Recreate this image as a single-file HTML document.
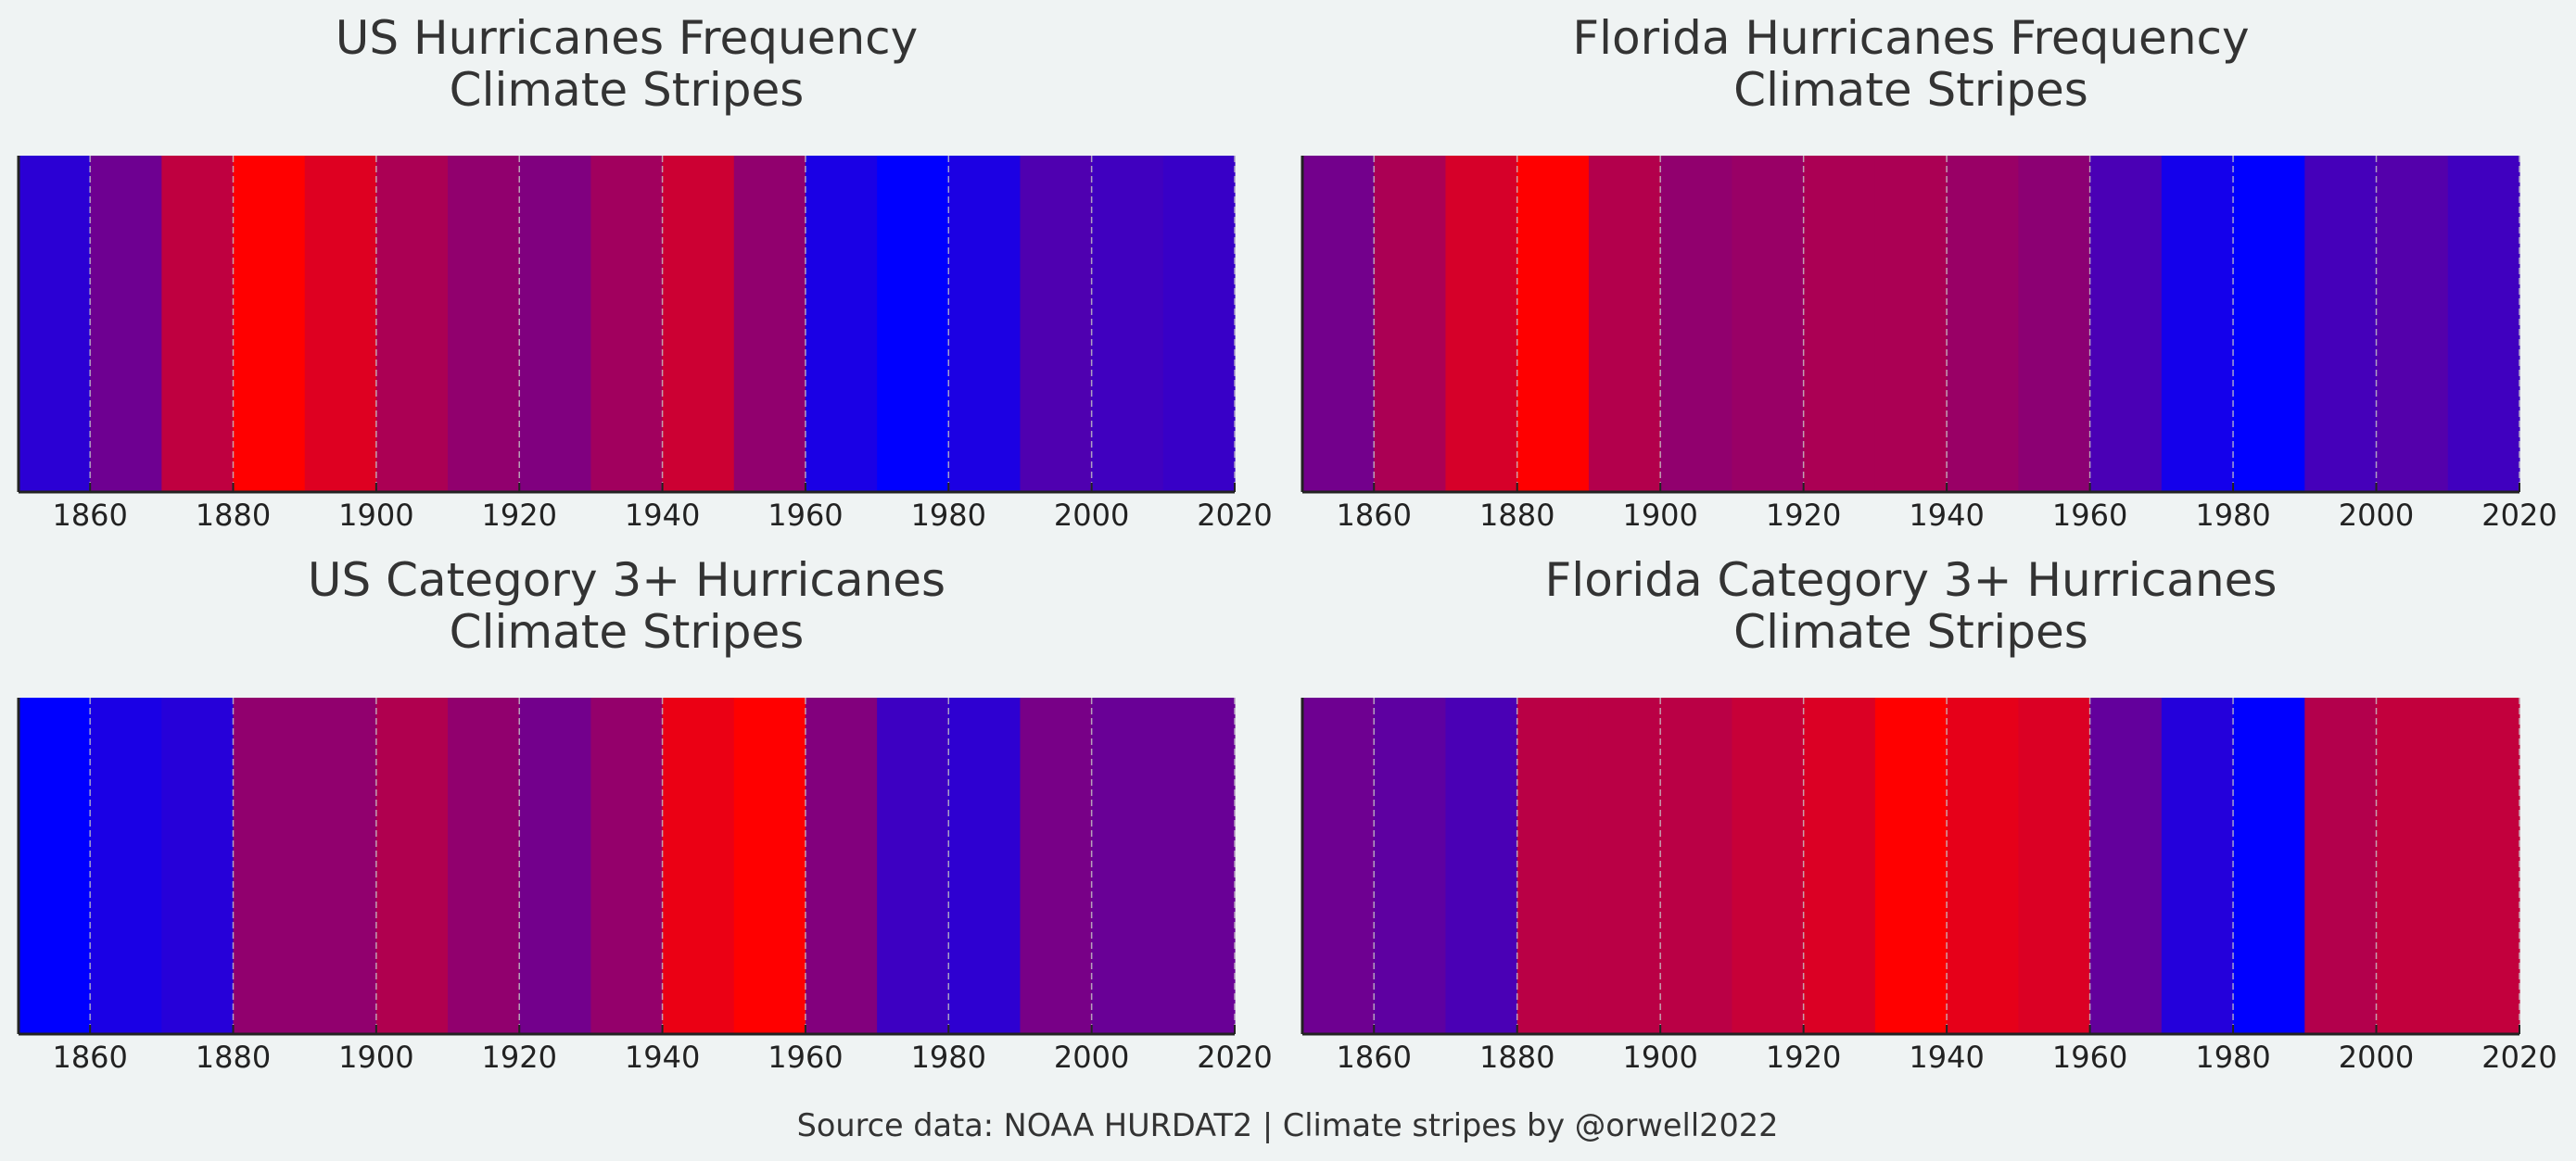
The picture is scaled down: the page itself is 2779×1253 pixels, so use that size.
<!DOCTYPE html>
<html><head><meta charset="utf-8">
<style>
html,body{margin:0;padding:0;background:#eff3f3;}
svg{display:block;font-family:"DejaVu Sans","Liberation Sans",sans-serif;}
</style></head>
<body>
<svg id="fig" width="2779" height="1253" viewBox="0 0 2779 1253" xmlns="http://www.w3.org/2000/svg">
<rect width="2779" height="1253" fill="#eff3f3"/>
<text x="1389" y="1226" text-anchor="middle" font-size="33.5" fill="#333">Source data: NOAA HURDAT2 | Climate stripes by @orwell2022</text>
</svg>
<script>
const decades = [1850,1860,1870,1880,1890,1900,1910,1920,1930,1940,1950,1960,1970,1980,1990,2000,2010];
const tickYears = [1860,1880,1900,1920,1940,1960,1980,2000,2020];
const usFreq = [0.17,0.43,0.75,1,0.87,0.67,0.57,0.5,0.63,0.8,0.57,0.1,0,0.11,0.31,0.25,0.22];
const flFreq = [0.45,0.67,0.84,1,0.7,0.57,0.6,0.67,0.67,0.6,0.55,0.29,0.08,0,0.27,0.33,0.25];
const usCat3 = [0,0.1,0.15,0.57,0.57,0.69,0.57,0.45,0.58,0.92,1,0.51,0.24,0.18,0.47,0.41,0.41];
const flCat3 = [0.43,0.37,0.29,0.73,0.73,0.73,0.78,0.86,1,0.9,0.86,0.39,0.14,0,0.7,0.76,0.76];

const NS="http://www.w3.org/2000/svg";
const svg=document.getElementById('fig');
function mk(tag,attrs,parent){const e=document.createElementNS(NS,tag);for(const k in attrs)e.setAttribute(k,attrs[k]);(parent||svg).appendChild(e);return e;}
function color(v){const r=Math.round(255*v),b=255-r;return `rgb(${r},0,${b})`;}

const panels=[
 {name:'us-frequency',t1:'US Hurricanes Frequency',vals:usFreq,x0:20,x1:1332,y0:168,y1:531,ty:41},
 {name:'florida-frequency',t1:'Florida Hurricanes Frequency',vals:flFreq,x0:1405,x1:2718,y0:168,y1:531,ty:41},
 {name:'us-category3',t1:'US Category 3+ Hurricanes',vals:usCat3,x0:20,x1:1332,y0:753,y1:1116,ty:626},
 {name:'florida-category3',t1:'Florida Category 3+ Hurricanes',vals:flCat3,x0:1405,x1:2718,y0:753,y1:1116,ty:626}
];
panels.forEach(p=>{
  const g=mk('g',{});
  
  
  const xs=y=>p.x0+(y-1850)/(2020-1850)*(p.x1-p.x0);
  const cx=(p.x0+p.x1)/2;
  const t=mk('text',{x:cx,y:p.ty+17,'text-anchor':'middle','font-size':50,fill:'#333'},g);
  
  
  t.textContent=p.t1;
  const t2=mk('text',{x:cx,y:p.ty+73,'text-anchor':'middle','font-size':50,fill:'#333'},g);
  
  
  t2.textContent='Climate Stripes';
  decades.forEach((d,i)=>{
    const a=xs(d),b=xs(d+10);
    const r=mk('rect',{x:a,y:p.y0,width:b-a+0.6,height:p.y1-p.y0,fill:color(p.vals[i])},g);
    
    
  });
  tickYears.forEach(y=>{
    const x=xs(y);
    const gl=mk('line',{x1:x,x2:x,y1:p.y0,y2:p.y1,stroke:'#c8c8c8','stroke-width':1.5,'stroke-dasharray':'7,4',opacity:0.8},g);
    
    
    const tk=mk('line',{x1:x,x2:x,y1:p.y1-10,y2:p.y1,stroke:'#222','stroke-width':2},g);
    
    
    const tl=mk('text',{x:x,y:p.y1+36,'text-anchor':'middle','font-size':32,fill:'#222'},g);
    
    
    tl.textContent=y;
  });
  const ls=mk('line',{x1:p.x0,x2:p.x0,y1:p.y0,y2:p.y1,stroke:'#222','stroke-width':3},g);
  
  
  const bs=mk('line',{x1:p.x0,x2:p.x1,y1:p.y1,y2:p.y1,stroke:'#222','stroke-width':3},g);
  
  
});
</script>
</body></html>
